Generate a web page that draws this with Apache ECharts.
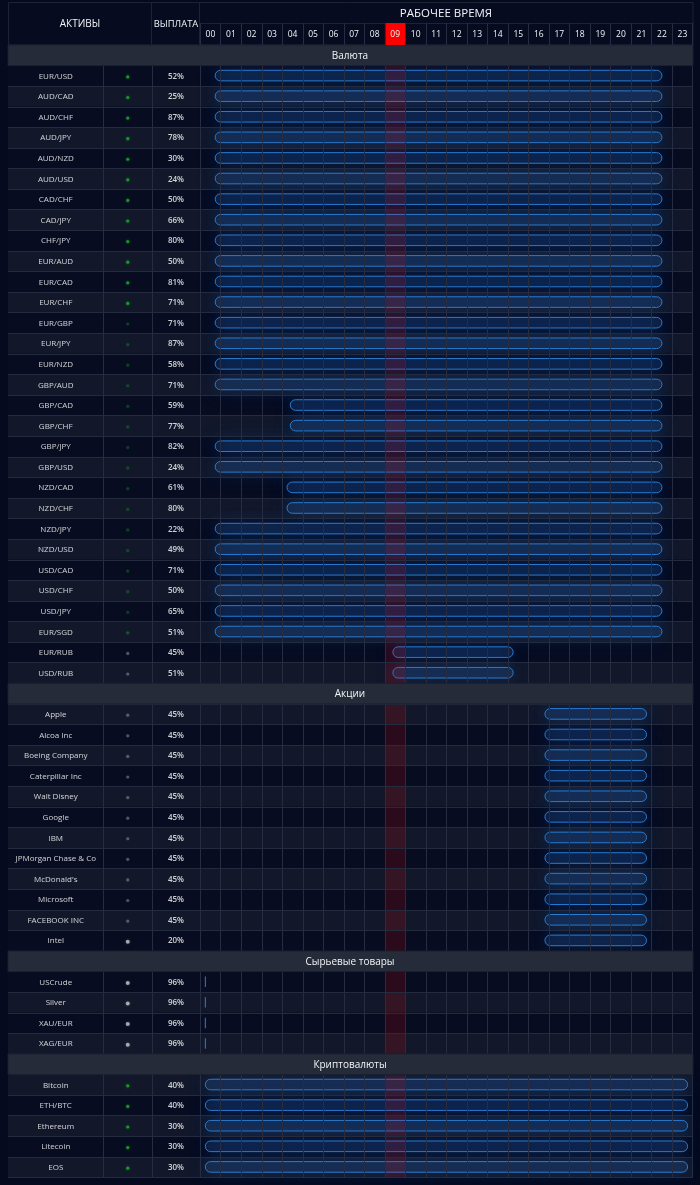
<!DOCTYPE html>
<html>
<head>
<meta charset="utf-8">
<title>Рабочее время</title>
<style>
html,body{margin:0;padding:0;background:#050a1e;}
#chart{width:700px;height:1185px;}
</style>
<script src="https://cdn.jsdelivr.net/npm/echarts@6/dist/echarts.min.js"></script>
</head>
<body>
<div id="chart"></div>
<script>
var hours=['00','01','02','03','04','05','06','07','08','09','10','11','12','13','14','15','16','17','18','19','20','21','22','23'];
var currentHour='09';
var sectionNames=['Валюта','Акции','Сырьевые товары','Криптовалюты'];

// Валюта
var currencyNames=['EUR/USD','AUD/CAD','AUD/CHF','AUD/JPY','AUD/NZD','AUD/USD','CAD/CHF','CAD/JPY','CHF/JPY','EUR/AUD','EUR/CAD','EUR/CHF','EUR/GBP','EUR/JPY','EUR/NZD','GBP/AUD','GBP/CAD','GBP/CHF','GBP/JPY','GBP/USD','NZD/CAD','NZD/CHF','NZD/JPY','NZD/USD','USD/CAD','USD/CHF','USD/JPY','EUR/SGD','EUR/RUB','USD/RUB'];
var currencyPayout=[52,25,87,78,30,24,50,66,80,50,81,71,71,87,58,71,59,77,82,24,61,80,22,49,71,50,65,51,45,51];
var currencyOpen=[1,1,1,1,1,1,1,1,1,1,1,1,1,1,1,1,1,1,1,1,1,1,1,1,1,1,1,1,0,0];
var currencyDot=[1,1,1,1,1,1,1,1,1,1,1,1,.35,.35,.35,.35,.35,.35,.35,.35,.35,.35,.35,.35,.35,.35,.35,.45,.4,.4];
var currencyStart=[.73,.73,.73,.73,.73,.73,.73,.73,.73,.73,.73,.73,.73,.73,.73,.73,4.39,4.39,.73,.73,4.23,4.23,.73,.73,.73,.73,.73,.73,9.39,9.39];
var currencyEnd=[22.5,22.5,22.5,22.5,22.5,22.5,22.5,22.5,22.5,22.5,22.5,22.5,22.5,22.5,22.5,22.5,22.5,22.5,22.5,22.5,22.5,22.5,22.5,22.5,22.5,22.5,22.5,22.5,15.25,15.25];

// Акции
var stockNames=['Apple','Alcoa Inc','Boeing Company','Caterpillar Inc','Walt Disney','Google','IBM','JPMorgan Chase & Co',"McDonald's",'Microsoft','FACEBOOK INC','Intel'];
var stockPayout=[45,45,45,45,45,45,45,45,45,45,45,20];
var stockOpen=[0,0,0,0,0,0,0,0,0,0,0,0];
var stockDot=[.4,.4,.4,.4,.4,.4,.4,.4,.4,.4,.4,1];
var stockStart=[16.8,16.8,16.8,16.8,16.8,16.8,16.8,16.8,16.8,16.8,16.8,16.8];
var stockEnd=[21.75,21.75,21.75,21.75,21.75,21.75,21.75,21.75,21.75,21.75,21.75,21.75];

// Сырьевые товары
var commodityNames=['USCrude','Silver','XAU/EUR','XAG/EUR'];
var commodityPayout=[96,96,96,96];
var commodityOpen=[0,0,0,0];
var commodityDot=[1,1,1,1];
var commodityStart=[.25,.25,.25,.25];
var commodityEnd=[.25,.25,.25,.25];

// Криптовалюты
var cryptoNames=['Bitcoin','ETH/BTC','Ethereum','Litecoin','EOS'];
var cryptoPayout=[40,40,30,30,30];
var cryptoOpen=[1,1,1,1,1];
var cryptoDot=[1,1,1,1,1];
var cryptoStart=[.25,.25,.25,.25,.25];
var cryptoEnd=[23.75,23.75,23.75,23.75,23.75];

var FONT='"Open Sans"';
var groups=[
    [currencyNames,currencyPayout,currencyOpen,currencyDot,currencyStart,currencyEnd],
    [stockNames,stockPayout,stockOpen,stockDot,stockStart,stockEnd],
    [commodityNames,commodityPayout,commodityOpen,commodityDot,commodityStart,commodityEnd],
    [cryptoNames,cryptoPayout,cryptoOpen,cryptoDot,cryptoStart,cryptoEnd]
];

// строки таблицы: секция + её активы
var rowIds=[],bandData=[],sectionData=[],nameData=[],payoutData=[],dotData=[],barData=[];
groups.forEach(function(g,s){
    let r=rowIds.length;
    rowIds.push('s'+s);
    sectionData.push([r]);
    g[0].forEach(function(name,i){
        r=rowIds.length;
        rowIds.push('r'+r);
        bandData.push([r]);
        nameData.push([.5,r,name]);
        payoutData.push([.5,r,g[1][i]+'%']);
        dotData.push([.5,r,g[2][i],g[3][i]]);
        barData.push([g[4][i],g[5][i],r]);
    });
});

var TOP=45,HEIGHT=1132.5;
var LINE='#262d42';
function rowGrid(left,width){
    return {left:left,width:width,top:TOP,height:HEIGHT,containLabel:false};
}
var grids=[
    rowGrid(8,685),      // фон
    rowGrid(8,95.5),     // актив
    rowGrid(103.5,48.5), // статус
    rowGrid(152,48),     // выплата
    rowGrid(200.2,492.5),// часы
    {left:200.2,width:492.5,top:23,height:22} // шапка часов
];
function hiddenX(i){
    return {gridIndex:i,type:'value',min:0,max:1,show:false};
}
function rowAxis(i,line){
    return {
        gridIndex:i,type:'category',inverse:true,data:rowIds,
        axisTick:{show:false},axisLabel:{show:false},
        axisLine:{show:line,lineStyle:{color:LINE,width:1}},
        splitLine:{show:i===0,interval:0,lineStyle:{color:'#252b3e',width:1}},
        z:3
    };
}

function renderBand(params,api){
    let r=api.value(0);
    let cs=params.coordSys;
    let p=api.coord([0,r]);
    let h=api.size([0,1])[1];
    return {type:'rect',shape:{x:cs.x,y:p[1]-h/2,width:cs.width,height:h},
        style:{fill:r%2==0?'#12182a':'#070c20'}};
}
function renderSection(params,api){
    let cs=params.coordSys;
    let p=api.coord([0,api.value(0)]);
    let h=api.size([0,1])[1];
    return {type:'group',children:[
        {type:'rect',shape:{x:cs.x,y:p[1]-h/2,width:cs.width,height:h},style:{fill:'#252b39',stroke:'#1a2030',lineWidth:1}},
        {type:'text',x:cs.x+cs.width/2-.5,y:p[1]+.5,style:{text:sectionNames[params.dataIndex],fill:'#f2f4f8',font:'10px '+FONT,align:'center',verticalAlign:'middle'}}
    ]};
}
function renderNow(params,api){
    let cs=params.coordSys;
    let a=api.coord([api.value(0),0]);
    let b=api.coord([api.value(0)+1,0]);
    return {type:'rect',shape:{x:a[0],y:cs.y,width:b[0]-a[0],height:cs.height},style:{fill:'rgba(255,0,0,0.15)'}};
}
function renderBar(params,api){
    let a=api.coord([api.value(0),api.value(2)]);
    let b=api.coord([api.value(1),api.value(2)]);
    let w=b[0]-a[0];
    if(w<1){
        return {type:'rect',shape:{x:a[0]-.5,y:a[1]-5.3,width:1,height:10.4},style:{fill:'#2a7fd4'}};
    }
    return {type:'rect',shape:{x:a[0],y:a[1]-5.6,width:w,height:10.6,r:5.3},
        style:{fill:'rgba(60,125,205,0.15)',stroke:'#2a7ccf',lineWidth:1,
            shadowBlur:18,shadowColor:'rgba(30,110,220,0.8)'}};
}
function textSeries(grid,data,size,weight){
    return {
        type:'scatter',xAxisIndex:grid,yAxisIndex:grid,data:data,symbolSize:0,silent:true,z:7,
        label:{show:true,position:'inside',offset:[0,.5],formatter:function(p){return p.data[2];},
            color:'#ffffff',fontFamily:FONT,fontSize:size,fontWeight:weight}
    };
}
function headTitle(text,x,y,size){
    return {text:text,left:x,top:y,padding:0,textAlign:'center',textStyle:{color:'#f2f4f8',fontFamily:FONT,fontSize:size,fontWeight:'normal'}};
}

var option={
    backgroundColor:'#050a1e',
    animation:false,
    title:[
        headTitle('АКТИВЫ',80,19,10),
        headTitle('ВЫПЛАТА',176,19.5,9.4),
        headTitle('РАБОЧЕЕ ВРЕМЯ',446,8,11.5)
    ],
    grid:grids,
    xAxis:[
        hiddenX(0),hiddenX(1),hiddenX(2),hiddenX(3),
        {gridIndex:4,type:'value',min:0,max:24,interval:1,axisLabel:{show:false},axisTick:{show:false},axisLine:{show:false},
            splitLine:{show:true,lineStyle:{color:LINE,width:1}},z:3},
        {gridIndex:5,type:'category',position:'top',data:hours,boundaryGap:true,
            axisTick:{show:false},axisLine:{show:false},
            axisLabel:{inside:true,interval:0,margin:12,verticalAlign:'middle',color:'#f1f3f7',fontFamily:FONT,fontSize:8.5},
            splitLine:{show:true,interval:0,lineStyle:{color:LINE,width:1}},z:6}
    ],
    yAxis:[
        rowAxis(0,false),rowAxis(1,false),rowAxis(2,true),rowAxis(3,true),
        rowAxis(4,true),
        {gridIndex:5,type:'value',min:0,max:1,show:false}
    ],
    graphic:[
        {type:'rect',z:1,shape:{x:8.5,y:2.5,width:684.5,height:42.5},style:{fill:'#060b20',stroke:'#1c2335',lineWidth:1}},
        {type:'line',z:1,shape:{x1:151.5,y1:2.5,x2:151.5,y2:45},style:{stroke:'#1c2335',lineWidth:1}},
        {type:'line',z:1,shape:{x1:199.5,y1:2.5,x2:199.5,y2:45},style:{stroke:'#1c2335',lineWidth:1}},
        {type:'line',z:1,shape:{x1:199.5,y1:23.5,x2:693,y2:23.5},style:{stroke:'#1c2335',lineWidth:1}}
    ],
    series:[
        {type:'custom',coordinateSystem:'cartesian2d',xAxisIndex:0,yAxisIndex:0,z:1,silent:true,renderItem:renderBand,data:bandData,encode:{y:0}},
        {type:'custom',coordinateSystem:'cartesian2d',xAxisIndex:4,yAxisIndex:4,z:2,silent:true,renderItem:renderBar,data:barData,encode:{x:[0,1],y:2}},
        {type:'custom',coordinateSystem:'cartesian2d',xAxisIndex:4,yAxisIndex:4,z:2,silent:true,renderItem:renderNow,data:[[hours.indexOf(currentHour)]],encode:{x:0}},
        {type:'custom',coordinateSystem:'cartesian2d',xAxisIndex:0,yAxisIndex:0,z:5,silent:true,renderItem:renderSection,data:sectionData,encode:{y:0}},
        textSeries(1,nameData,8,'normal'),
        textSeries(3,payoutData,8,600),
        {
            type:'scatter',xAxisIndex:2,yAxisIndex:2,data:dotData,silent:true,z:7,symbol:'circle',
            symbolSize:function(v){return v[2]==0&&v[3]==1?4:3.2;},
            symbolOffset:[0,1],
            itemStyle:{
                color:function(p){
                    let v=p.data;
                    if(v[2]==1)return 'rgba(10,190,20,'+v[3]+')';
                    return 'rgba(225,228,235,'+(v[3]==1?0.85:0.4)+')';
                },
                shadowBlur:3,
                shadowColor:'rgba(120,220,120,0.4)'
            }
        },
        {
            type:'bar',xAxisIndex:5,yAxisIndex:5,barWidth:'100%',silent:true,z:5,
            itemStyle:{color:'#ff0000'},
            data:hours.map(function(h){return h==currentHour?1:0;})
        }
    ]
};
var myChart=echarts.init(document.getElementById('chart'),null,{renderer:'canvas'});
myChart.setOption(option);
</script>
</body>
</html>
